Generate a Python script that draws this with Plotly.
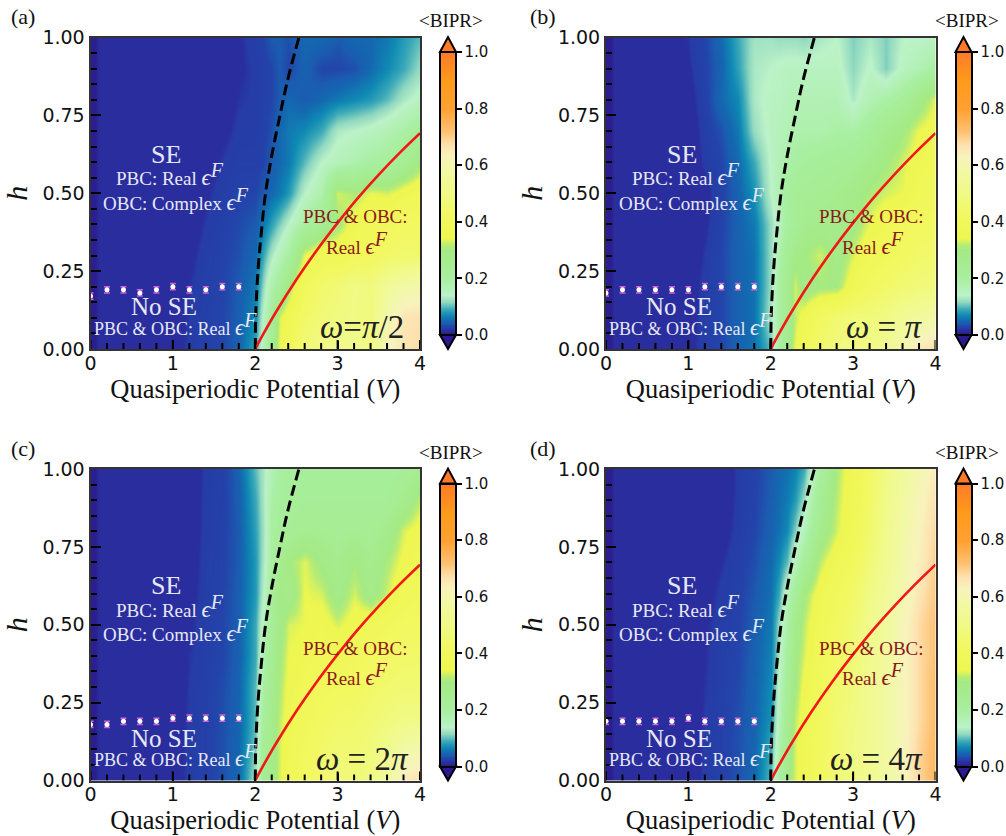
import plotly.graph_objects as go

W, H = 1006, 836
V_GRID = [0, .05, .1, .6, 1.0, 1.2, 1.4, 1.6, 1.8, 2.0, 2.1, 2.2, 2.3, 2.4, 2.6, 2.8, 3.0, 3.2, 3.4, 3.6, 3.8, 4.0]
H_GRID = [0, .1, .2, .3, .4, .5, .6, .7, .8, .9, 1.0]

Z_A = [
 [.003,.003,.012,.012,.015,.022,.026,.03,.045,.09,.17,.25,.34,.40,.47,.50,.52,.52,.50,.62,.66,.68],
 [.003,.003,.012,.012,.014,.021,.026,.03,.042,.07,.15,.22,.33,.37,.44,.47,.49,.50,.48,.60,.66,.67],
 [.003,.003,.012,.012,.013,.02,.025,.029,.04,.06,.12,.18,.22,.30,.40,.45,.47,.50,.48,.55,.58,.60],
 [.003,.003,.012,.012,.012,.017,.024,.028,.035,.05,.09,.13,.16,.20,.34,.38,.38,.40,.42,.44,.45,.45],
 [.003,.003,.012,.012,.012,.014,.021,.026,.032,.04,.06,.085,.11,.14,.20,.25,.30,.36,.38,.40,.42,.42],
 [.003,.003,.012,.012,.012,.012,.018,.024,.028,.03,.04,.05,.06,.08,.14,.18,.33,.31,.34,.33,.36,.38],
 [.003,.003,.012,.012,.012,.012,.015,.021,.025,.025,.03,.04,.05,.06,.10,.14,.16,.18,.20,.21,.24,.30],
 [.003,.003,.012,.012,.012,.012,.012,.017,.022,.023,.027,.035,.05,.06,.07,.09,.13,.14,.15,.17,.19,.22],
 [.003,.003,.012,.012,.012,.012,.012,.014,.02,.022,.026,.03,.04,.05,.04,.05,.06,.07,.08,.10,.13,.15],
 [.003,.003,.012,.012,.012,.012,.012,.013,.018,.022,.026,.03,.04,.03,.045,.03,.03,.035,.05,.07,.09,.12],
 [.003,.003,.012,.012,.012,.012,.012,.012,.018,.025,.03,.04,.04,.035,.05,.05,.04,.05,.05,.06,.08,.10],
]
Z_B = [
 [.003,.003,.012,.012,.016,.024,.03,.045,.055,.10,.20,.27,.34,.40,.45,.48,.50,.50,.54,.60,.66,.68],
 [.003,.003,.012,.012,.015,.024,.03,.045,.055,.13,.20,.25,.32,.36,.42,.46,.48,.48,.50,.54,.56,.58],
 [.003,.003,.012,.012,.014,.023,.03,.045,.055,.12,.20,.26,.33,.28,.30,.30,.37,.42,.44,.46,.48,.48],
 [.003,.003,.012,.012,.013,.021,.03,.045,.055,.12,.18,.24,.28,.30,.33,.28,.33,.38,.40,.42,.44,.45],
 [.003,.003,.012,.012,.012,.018,.028,.045,.06,.12,.16,.20,.24,.26,.27,.27,.29,.34,.37,.40,.42,.42],
 [.003,.003,.012,.012,.012,.016,.027,.045,.075,.14,.18,.21,.23,.24,.25,.26,.28,.31,.33,.34,.38,.40],
 [.003,.003,.012,.012,.012,.022,.03,.05,.09,.145,.17,.19,.20,.21,.22,.23,.24,.27,.30,.33,.36,.38],
 [.003,.003,.012,.012,.013,.024,.035,.06,.12,.15,.16,.17,.18,.18,.18,.19,.19,.22,.26,.30,.34,.36],
 [.003,.003,.012,.012,.015,.026,.05,.07,.13,.15,.15,.16,.17,.17,.17,.17,.13,.17,.19,.22,.28,.34],
 [.003,.003,.012,.012,.018,.028,.045,.085,.13,.14,.145,.15,.15,.15,.15,.15,.115,.145,.11,.15,.17,.20],
 [.003,.003,.012,.014,.02,.03,.05,.09,.125,.125,.12,.12,.12,.115,.13,.14,.11,.13,.11,.14,.14,.15],
]
Z_C = [
 [.003,.003,.012,.012,.013,.023,.026,.035,.048,.13,.25,.28,.33,.38,.42,.45,.48,.47,.50,.56,.65,.67],
 [.003,.003,.012,.012,.013,.023,.026,.035,.047,.11,.24,.27,.33,.37,.41,.44,.46,.46,.48,.52,.58,.60],
 [.003,.003,.012,.012,.012,.022,.026,.034,.046,.10,.22,.27,.32,.36,.39,.42,.44,.44,.46,.48,.50,.50],
 [.003,.003,.012,.012,.012,.021,.026,.033,.045,.10,.20,.26,.31,.35,.38,.40,.41,.42,.44,.45,.46,.46],
 [.003,.003,.012,.012,.012,.02,.025,.03,.044,.09,.18,.25,.30,.34,.36,.38,.38,.40,.42,.43,.44,.44],
 [.003,.003,.012,.012,.012,.018,.025,.03,.042,.09,.16,.23,.28,.33,.34,.36,.33,.36,.38,.40,.42,.42],
 [.003,.003,.012,.012,.012,.016,.024,.029,.042,.08,.14,.22,.30,.27,.34,.33,.28,.33,.28,.33,.38,.40],
 [.003,.003,.012,.012,.012,.014,.024,.028,.04,.08,.13,.20,.25,.30,.335,.29,.26,.30,.26,.31,.35,.38],
 [.003,.003,.012,.012,.012,.013,.023,.027,.04,.085,.125,.20,.22,.23,.25,.25,.24,.25,.24,.27,.33,.36],
 [.003,.003,.012,.012,.012,.012,.023,.026,.042,.09,.13,.19,.21,.22,.23,.23,.23,.23,.23,.23,.26,.32],
 [.003,.003,.012,.012,.012,.012,.022,.026,.045,.10,.13,.17,.20,.21,.22,.22,.22,.22,.22,.22,.23,.25],
]
Z_D = [
 [.003,.003,.012,.012,.013,.022,.026,.036,.048,.10,.20,.28,.33,.37,.42,.47,.50,.53,.57,.62,.69,.74],
 [.003,.003,.012,.012,.013,.022,.026,.035,.047,.09,.18,.26,.33,.37,.42,.46,.50,.53,.57,.62,.69,.74],
 [.003,.003,.012,.012,.013,.021,.026,.034,.046,.075,.16,.25,.32,.36,.41,.46,.49,.53,.57,.62,.68,.73],
 [.003,.003,.012,.012,.012,.02,.025,.032,.045,.07,.15,.23,.30,.35,.40,.45,.48,.53,.57,.62,.68,.73],
 [.003,.003,.012,.012,.012,.019,.025,.03,.044,.065,.13,.21,.29,.33,.39,.43,.47,.52,.56,.62,.68,.72],
 [.003,.003,.012,.012,.012,.018,.024,.028,.042,.06,.12,.19,.27,.32,.38,.42,.46,.52,.56,.62,.68,.72],
 [.003,.003,.012,.012,.012,.016,.022,.027,.038,.055,.09,.16,.22,.30,.36,.40,.44,.50,.55,.60,.66,.71],
 [.003,.003,.012,.012,.012,.015,.019,.025,.034,.05,.07,.10,.16,.22,.32,.37,.41,.47,.53,.59,.64,.70],
 [.003,.003,.012,.012,.012,.014,.015,.023,.03,.045,.055,.07,.11,.16,.27,.33,.38,.45,.52,.58,.63,.69],
 [.003,.003,.012,.012,.012,.013,.013,.022,.028,.042,.052,.06,.08,.12,.24,.32,.37,.44,.51,.57,.62,.67],
 [.003,.003,.012,.012,.012,.012,.012,.022,.027,.04,.05,.055,.065,.09,.20,.31,.37,.43,.50,.56,.60,.65],
]

COLORSCALE = [
 [0,'#2a1a90'],[.008,'#2a2590'],[.012,'#2a2d9e'],[.019,'#2a2d9e'],[.021,'#263ca6'],[.03,'#2344aa'],[.04,'#1b5cb0'],
 [.05,'#1468b0'],[.07,'#0f8ab4'],[.09,'#3aa8b8'],[.115,'#8fd8c0'],[.14,'#bcf2c8'],[.2,'#a8efa0'],[.3,'#a4ea84'],
 [.318,'#b8ec74'],[.34,'#eef650'],[.42,'#f2f85f'],[.5,'#f0fa85'],[.58,'#f1f9a5'],[.63,'#f8f3bc'],[.67,'#fde2b0'],[.72,'#ffc070'],
 [.8,'#ffa030'],[.9,'#ff9a1a'],[1,'#ff7a28'],
]

RED_V = [2.0, 2.1, 2.25, 2.5, 2.75, 3.0, 3.25, 3.5, 3.75, 4.0]
RED_H = [0, .049, .118, .223, .318, .405, .486, .56, .629, .693]
DASH_V = [2.0, 2.005, 2.012, 2.033, 2.065, 2.125, 2.20, 2.30, 2.39, 2.53]
DASH_H = [0, .1, .15, .25, .35, .5, .62, .75, .86, 1.0]

SE_V = [0, .2, .4, .6, .8, 1.0, 1.2, 1.4, 1.6, 1.8]
SE_A = [.17, .19, .19, .18, .19, .20, .19, .19, .20, .20]
SE_B = [.18, .19, .19, .19, .19, .19, .20, .20, .20, .20]
SE_C = [.18, .18, .19, .19, .19, .20, .20, .20, .20, .20]
SE_D = [.19, .19, .19, .19, .19, .20, .19, .19, .19, .19]
SE_ERR = [.01] * 10

X_MAJOR = [0, 1, 2, 3, 4]
X_MINOR = [.2, .4, .6, .8, 1.2, 1.4, 1.6, 1.8, 2.2, 2.4, 2.6, 2.8, 3.2, 3.4, 3.6, 3.8]

PANELS = [
 dict(tag='(a)', z=Z_A, se=SE_A, om='<i>ω</i>=<i>π</i>/2', omx=3.3, l=90.5, t=37.5, taglx=9),
 dict(tag='(b)', z=Z_B, se=SE_B, om='<i>ω</i> = <i>π</i>', omx=3.38, l=606, t=37.5, taglx=528),
 dict(tag='(c)', z=Z_C, se=SE_C, om='<i>ω</i> = 2<i>π</i>', omx=3.3, l=90.5, t=469, taglx=9),
 dict(tag='(d)', z=Z_D, se=SE_D, om='<i>ω</i> = 4<i>π</i>', omx=3.28, l=606, t=469, taglx=528),
]
PW, PH = 329.5, 311.5
SERIF = 'Liberation Serif'
TICK = 'DejaVu Sans'
EPS = '<span style="font-size:23px"><i>ϵ</i></span><sup><i><span style="font-size:20px">F</span></i></sup>'
LIGHT = '#e6e8f6'
DARKRED = '#8a1a1a'

fig = go.Figure()
layout = {}
ann, shapes = [], []

def px_x(p): return p / W
def px_y(p): return 1 - p / H

for i, p in enumerate(PANELS):
    n = '' if i == 0 else str(i + 1)
    xa, ya = 'x' + n, 'y' + n
    cb_x = p['l'] + 349.5
    cb_top = p['t'] + 14.5
    cb_bot = p['t'] + 297.5
    fig.add_trace(go.Heatmap(
        x=V_GRID, y=H_GRID, z=p['z'], zmin=0, zmax=1, zsmooth='best', colorscale=COLORSCALE, xaxis=xa, yaxis=ya,
        hoverinfo='skip',
        colorbar=dict(x=px_x(cb_x), xanchor='left', y=px_y(cb_top), yanchor='top', xpad=0, ypad=0,
                      thicknessmode='pixels', thickness=16, lenmode='pixels', len=cb_bot - cb_top,
                      tickvals=[0, .2, .4, .6, .8, 1], ticktext=['0.0', '0.2', '0.4', '0.6', '0.8', '1.0'],
                      ticks='outside', ticklen=5, tickwidth=1.5, tickcolor='black',
                      tickfont=dict(family=TICK, size=15, color='#111'),
                      outlinecolor='black', outlinewidth=2)))
    fig.add_trace(go.Scatter(x=SE_V, y=p['se'], mode='markers', xaxis=xa, yaxis=ya, showlegend=False,
                             marker=dict(color='white', size=5),
                             error_y=dict(type='data', array=SE_ERR, color='#d060d8', thickness=1.5, width=3)))
    fig.add_trace(go.Scatter(x=DASH_V, y=DASH_H, mode='lines', xaxis=xa, yaxis=ya, showlegend=False,
                             line=dict(color='black', width=3, dash='11px,5px', shape='spline')))
    fig.add_trace(go.Scatter(x=RED_V, y=RED_H, mode='lines', xaxis=xa, yaxis=ya, showlegend=False,
                             line=dict(color='#f01818', width=2.6, shape='spline')))
    # bottom inside ticks as short line segments rising from the axis line
    for vals, tick_px in ((X_MAJOR, 9), (X_MINOR, 6)):
        seg_x, seg_y = [], []
        for v in vals:
            seg_x += [v, v, None]
            seg_y += [0, tick_px / PH, None]
        fig.add_trace(go.Scatter(x=seg_x, y=seg_y, mode='lines', xaxis=xa, yaxis=ya, showlegend=False,
                                 hoverinfo='skip', line=dict(color='black', width=2)))

    common = dict(showgrid=False, zeroline=False, showline=True, mirror=True, linecolor='#333', linewidth=2,
                  ticks='inside', tickcolor='black', tickwidth=2, tickfont=dict(family=TICK, size=19, color='#111'))
    layout['xaxis' + n] = dict(common, range=[0, 4], anchor=ya, domain=[px_x(p['l']), px_x(p['l'] + PW)],
                               tickmode='array', tickvals=X_MAJOR, ticktext=[str(v) for v in X_MAJOR], ticklen=8,
                               ticklabelstandoff=-4,
                               title=dict(text='Quasiperiodic Potential (<i>V</i>)', standoff=3,
                                          font=dict(family=SERIF, size=26.5, color='#111')))
    layout['yaxis' + n] = dict(common, range=[0, 1], anchor=xa, domain=[px_y(p['t'] + PH), px_y(p['t'])],
                               tickvals=[0, .25, .5, .75, 1], ticktext=['0.00', '0.25', '0.50', '0.75', '1.00'], ticklen=10,
                               minor=dict(dtick=.05, tick0=0, ticks='inside', ticklen=6, tickwidth=2, tickcolor='black'),
                               title=dict(text='<i>h</i>', standoff=6, font=dict(family=SERIF, size=30, color='#111')))

    def note(text, vx, hy, size, color):
        ann.append(dict(text=text, x=vx, y=hy, xref=xa, yref=ya, showarrow=False, xanchor='center', yanchor='middle',
                        font=dict(family=SERIF, size=size, color=color)))
    note('SE', .92, .625, 26, LIGHT)
    note('PBC: Real ' + EPS, .97, .56, 19, LIGHT)
    note('OBC: Complex ' + EPS, 1.04, .48, 19, LIGHT)
    note('No SE', .89, .135, 25, LIGHT)
    note('PBC &amp; OBC: Real ' + EPS, 1.03, .08, 18, LIGHT)
    note('PBC &amp; OBC:', 3.22, .425, 19, DARKRED)
    note('Real ' + EPS, 3.24, .34, 19, DARKRED)
    note(p['om'], p['omx'], .07, 33, '#222')

    ann.append(dict(text=p['tag'], x=px_x(p['taglx']), y=px_y(p['t'] - 21), xref='paper', yref='paper', showarrow=False,
                    xanchor='left', yanchor='middle', font=dict(family=SERIF, size=22, color='#111')))
    ann.append(dict(text='&lt;BIPR&gt;', x=px_x(cb_x + 11), y=px_y(p['t'] - 17), xref='paper', yref='paper', showarrow=False,
                    xanchor='center', yanchor='middle', font=dict(family=SERIF, size=19, color='#111')))
    mid = cb_x + 8
    shapes.append(dict(type='path', xref='paper', yref='paper', fillcolor='#ff7a28', line=dict(color='black', width=2),
                       path=f'M {px_x(cb_x)} {px_y(cb_top)} L {px_x(mid)} {px_y(cb_top - 15)} L {px_x(cb_x + 16)} {px_y(cb_top)} Z'))
    shapes.append(dict(type='path', xref='paper', yref='paper', fillcolor='#2a1a90', line=dict(color='black', width=2),
                       path=f'M {px_x(cb_x)} {px_y(cb_bot)} L {px_x(mid)} {px_y(cb_bot + 14)} L {px_x(cb_x + 16)} {px_y(cb_bot)} Z'))

fig.update_layout(width=W, height=H, margin=dict(l=0, r=0, t=0, b=0, autoexpand=False), paper_bgcolor='white', plot_bgcolor='white',
                  showlegend=False, annotations=ann, shapes=shapes, **layout)
fig.write_html('out.html', config=dict(displayModeBar=False),
               post_script="document.body.style.margin='0';document.body.style.overflow='hidden';")
